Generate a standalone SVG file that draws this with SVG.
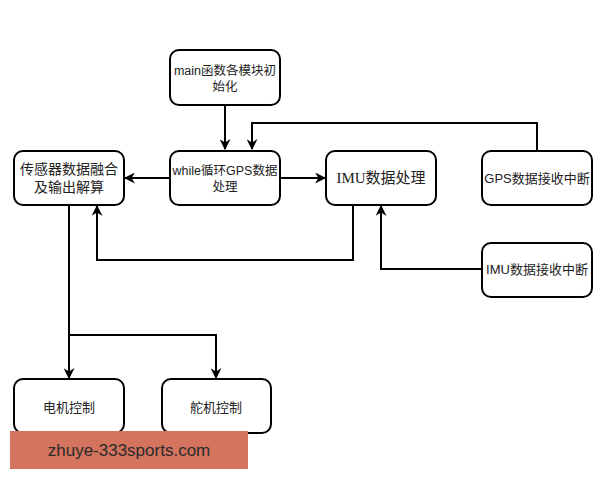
<svg xmlns="http://www.w3.org/2000/svg" width="600" height="480" viewBox="0 0 600 480">
<style>
.box{fill:#fff;stroke:#000;stroke-width:2}
.t{font-family:"Liberation Sans","Noto Sans CJK SC",sans-serif;font-size:12.5px;fill:#222;text-anchor:middle}
.t13{font-family:"Liberation Sans","Noto Sans CJK SC",sans-serif;font-size:13px;fill:#222;text-anchor:middle}
.t14{font-family:"Liberation Sans","Noto Sans CJK SC",sans-serif;font-size:14px;fill:#222;text-anchor:middle}
.ts{font-family:"Liberation Serif","Noto Sans CJK SC",serif;font-size:15px;fill:#222;text-anchor:middle}
.c{fill:none;stroke:#000;stroke-width:2}
</style>
<defs>
<marker id="a" viewBox="0 0 10 10" refX="9" refY="5" markerWidth="5.5" markerHeight="5.5" orient="auto" markerUnits="strokeWidth">
<path d="M0,0 L10,5 L0,10 L3,5 Z" fill="#000"/>
</marker>
</defs>
<rect width="600" height="480" fill="#fff"/>
<g id="connectors">
<path class="c" d="M225,105 V149" marker-end="url(#a)"/>
<path class="c" d="M537,150 V123 H252 V149" marker-end="url(#a)"/>
<path class="c" d="M170,178 H125" marker-end="url(#a)"/>
<path class="c" d="M280,178 H325" marker-end="url(#a)"/>
<path class="c" d="M353,205 V260 H97 V206" marker-end="url(#a)"/>
<path class="c" d="M482,269 H381 V206" marker-end="url(#a)"/>
<path class="c" d="M69,205 V378" marker-end="url(#a)"/>
<path class="c" d="M69,335 H216 V378" marker-end="url(#a)"/>
</g>
<g id="main">
<rect class="box" x="170" y="50" width="110" height="55" rx="9"/>
<text class="t" x="225" y="75">main函数各模块初</text>
<text class="t" x="225" y="91">始化</text>
</g>
<g id="while">
<rect class="box" x="170" y="151" width="110" height="54" rx="9"/>
<text class="t" x="225" y="175">while循环GPS数据</text>
<text class="t" x="225" y="191">处理</text>
</g>
<g id="sensor">
<rect class="box" x="14" y="151" width="110" height="54" rx="9"/>
<text class="t14" x="69" y="174">传感器数据融合</text>
<text class="t14" x="69" y="192">及输出解算</text>
</g>
<g id="imu">
<rect class="box" x="326" y="151" width="110" height="54" rx="9"/>
<text class="ts" x="381" y="183">IMU数据处理</text>
</g>
<g id="gpsint">
<rect class="box" x="482" y="151" width="110" height="54" rx="9"/>
<text class="t13" x="537" y="183">GPS数据接收中断</text>
</g>
<g id="imuint">
<rect class="box" x="482" y="243" width="110" height="54" rx="9"/>
<text class="t13" x="537" y="274">IMU数据接收中断</text>
</g>
<g id="motor">
<rect class="box" x="14" y="379" width="110" height="54" rx="9"/>
<text class="t13" x="69" y="412">电机控制</text>
</g>
<g id="servo">
<rect class="box" x="162" y="379" width="109" height="54" rx="9"/>
<text class="t13" x="216" y="412">舵机控制</text>
</g>
<g id="watermark">
<rect x="10" y="431" width="238" height="38" fill="#D4735E"/>
<text x="129" y="456" font-family="Liberation Sans, sans-serif" font-size="17" fill="#2a2a2a" text-anchor="middle">zhuye-333sports.com</text>
</g>
</svg>
